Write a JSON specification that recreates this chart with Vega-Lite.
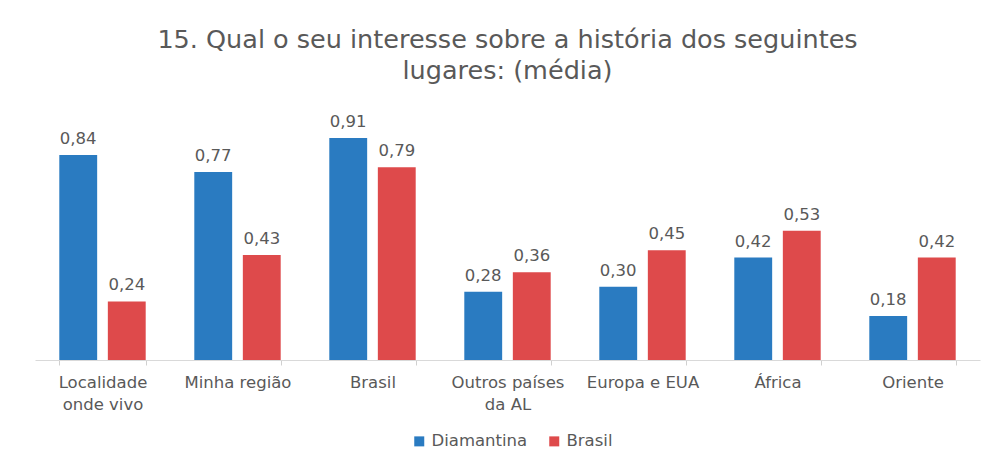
{
  "$schema": "https://vega.github.io/schema/vega-lite/v6.json",
  "autosize": {"type": "none"},
  "width": 945,
  "height": 244,
  "padding": {"left": 35, "top": 116, "right": 17, "bottom": 102},
  "background": "white",
  "config": {
    "view": {"stroke": null},
    "locale": {"number": {"decimal": ",", "thousands": ".", "grouping": [3], "currency": ["R$", ""]}}
  },
  "title": {
    "text": ["15. Qual o seu interesse sobre a história dos seguintes", "lugares: (média)"],
    "font": "DejaVu Sans",
    "fontSize": 25.5,
    "fontWeight": "normal",
    "color": "#595959",
    "lineHeight": 31,
    "offset": 29,
    "anchor": "middle"
  },
  "data": {
    "values": [
      {"lugar": "Localidade onde vivo", "serie": "Diamantina", "valor": 0.84},
      {"lugar": "Localidade onde vivo", "serie": "Brasil", "valor": 0.24},
      {"lugar": "Minha região", "serie": "Diamantina", "valor": 0.77},
      {"lugar": "Minha região", "serie": "Brasil", "valor": 0.43},
      {"lugar": "Brasil", "serie": "Diamantina", "valor": 0.91},
      {"lugar": "Brasil", "serie": "Brasil", "valor": 0.79},
      {"lugar": "Outros países da AL", "serie": "Diamantina", "valor": 0.28},
      {"lugar": "Outros países da AL", "serie": "Brasil", "valor": 0.36},
      {"lugar": "Europa e EUA", "serie": "Diamantina", "valor": 0.30},
      {"lugar": "Europa e EUA", "serie": "Brasil", "valor": 0.45},
      {"lugar": "África", "serie": "Diamantina", "valor": 0.42},
      {"lugar": "África", "serie": "Brasil", "valor": 0.53},
      {"lugar": "Oriente", "serie": "Diamantina", "valor": 0.18},
      {"lugar": "Oriente", "serie": "Brasil", "valor": 0.42}
    ]
  },
  "encoding": {
    "x": {
      "field": "lugar",
      "type": "nominal",
      "sort": ["Localidade onde vivo", "Minha região", "Brasil", "Outros países da AL", "Europa e EUA", "África", "Oriente"],
      "scale": {"paddingInner": 0.36, "paddingOuter": 0.18},
      "axis": {
        "title": null,
        "labelAngle": 0,
        "labelExpr": "datum.value == 'Localidade onde vivo' ? ['Localidade', 'onde vivo'] : datum.value == 'Outros países da AL' ? ['Outros países', 'da AL'] : datum.value",
        "labelFont": "DejaVu Sans",
        "labelFontSize": 16.5,
        "labelColor": "#595959",
        "labelLineHeight": 22,
        "labelPadding": 9,
        "tickBand": "extent",
        "tickSize": 5,
        "tickColor": "#D0D0D0",
        "domainColor": "#D9D9D9",
        "grid": false
      }
    },
    "xOffset": {
      "field": "serie",
      "type": "nominal",
      "sort": ["Diamantina", "Brasil"],
      "scale": {"paddingInner": 0.22}
    },
    "y": {
      "field": "valor",
      "type": "quantitative",
      "scale": {"domain": [0, 1]},
      "axis": null
    }
  },
  "layer": [
    {
      "mark": {"type": "bar"},
      "encoding": {
        "color": {
          "field": "serie",
          "type": "nominal",
          "scale": {"domain": ["Diamantina", "Brasil"], "range": ["#2A7BC1", "#DE4A4B"]},
          "legend": {
            "title": null,
            "orient": "none",
            "legendX": 376,
            "legendY": 317,
            "direction": "horizontal",
            "symbolType": "square",
            "symbolSize": 100,
            "symbolStrokeWidth": 0,
            "labelFont": "DejaVu Sans",
            "labelFontSize": 16.5,
            "labelColor": "#595959",
            "columnPadding": 18
          }
        }
      }
    },
    {
      "mark": {"type": "text", "baseline": "alphabetic", "dy": -11, "font": "DejaVu Sans", "fontSize": 16.5, "color": "#595959"},
      "encoding": {
        "text": {"field": "valor", "type": "quantitative", "format": ".2f"}
      }
    }
  ]
}
